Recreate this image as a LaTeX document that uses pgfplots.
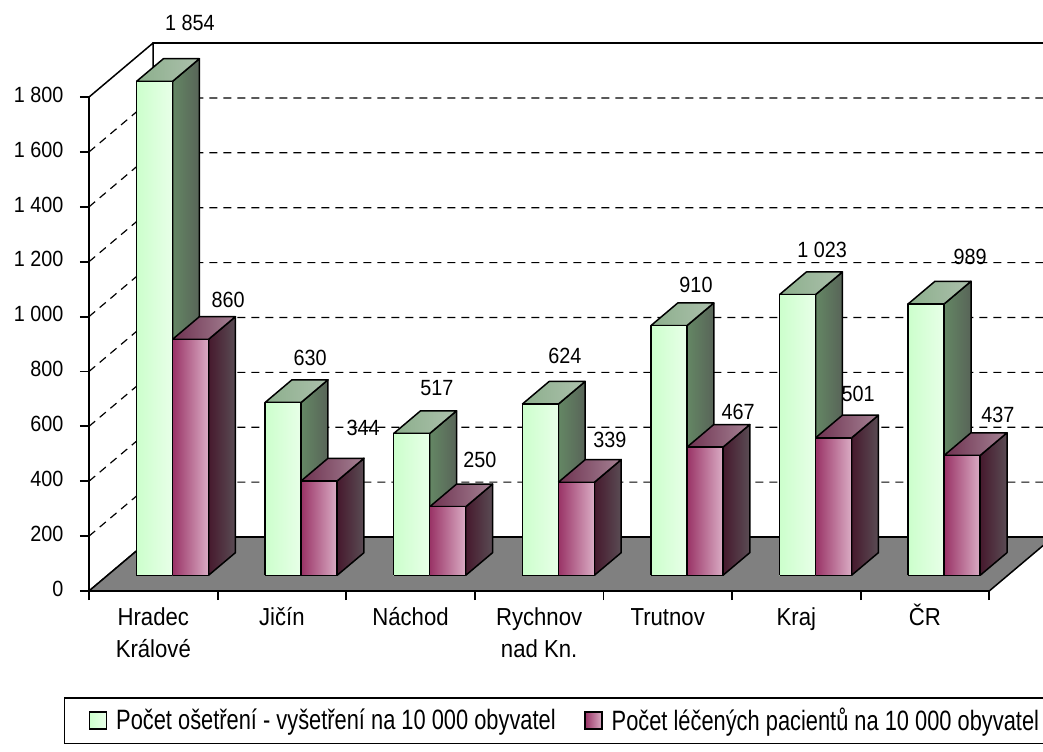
\documentclass[border=0pt]{standalone}
\usepackage{fontspec}
\setmainfont{Liberation Sans}[FakeStretch=0.9]
\newfontfamily\legfont{Liberation Sans}[FakeStretch=0.78]
\usepackage{pgfplots}
\pgfplotsset{compat=1.18}

\definecolor{gfl}{RGB}{204,255,204}
\definecolor{gfr}{RGB}{232,255,232}
\definecolor{gtl}{RGB}{140,175,140}
\definecolor{gtr}{RGB}{172,192,172}
\definecolor{gsl}{RGB}{100,135,100}
\definecolor{gsr}{RGB}{88,100,88}
\definecolor{pfl}{RGB}{153,51,102}
\definecolor{pfm}{RGB}{200,140,172}
\definecolor{pfr}{RGB}{218,172,196}
\definecolor{ptl}{RGB}{110,50,80}
\definecolor{ptr}{RGB}{165,130,148}
\definecolor{psl}{RGB}{70,25,45}
\definecolor{psr}{RGB}{90,76,84}
\definecolor{floorgray}{RGB}{128,128,128}

\pgfplotsset{
  face/.style={draw=black, line width=0.75pt, line join=round},
  gfront/.style={face, left color=gfl, right color=gfr},
  gtop/.style={face, left color=gtl, right color=gtr},
  gside/.style={face, left color=gsl, right color=gsr},
  pfront/.style={face, left color=pfl, middle color=pfm, right color=pfr},
  ptop/.style={face, left color=ptl, right color=ptr},
  pside/.style={face, left color=psl, right color=psr},
  sqlegend/.style={legend image code/.code={\draw[##1] (0pt,-4.25pt) rectangle (8.5pt,4.25pt);}},
}

% one column: x from #1 to #2, value #3 (cut at the axis top 1800), series #4 (g/p)
\newcommand{\cuboid}[4]{%
  \pgfmathsetmacro{\cz}{min(#3,1800)}%
  \addplot3[#4side] coordinates {(#2,0.29,0) (#2,0.71,0) (#2,0.71,\cz) (#2,0.29,\cz) (#2,0.29,0)};
  \addplot3[#4top] coordinates {(#1,0.29,\cz) (#2,0.29,\cz) (#2,0.71,\cz) (#1,0.71,\cz) (#1,0.29,\cz)};
  \addplot3[#4front] coordinates {(#1,0.29,0) (#2,0.29,0) (#2,0.29,\cz) (#1,0.29,\cz) (#1,0.29,0)};
}

\begin{document}
\begin{tikzpicture}
% the 3D box: walls, floor and columns
\begin{axis}[
    x={(64.3pt,0pt)}, y={(32pt,27pt)}, z={(0pt,0.1372pt)},
    xmin=0, xmax=7, ymin=0, ymax=1, zmin=0, zmax=1800,
    hide axis, clip=false,
]
\coordinate (O) at (axis cs:0,0,0);
\addplot3[face, fill=white] coordinates {(0,1,0) (7,1,0) (7,1,1800) (0,1,1800) (0,1,0)};
\addplot3[face, fill=white] coordinates {(0,0,0) (0,1,0) (0,1,1800) (0,0,1800) (0,0,0)};
\pgfplotsinvokeforeach{200,400,...,1600}{
  \addplot3[black, line width=0.6pt, dash pattern=on 4pt off 3pt] coordinates {(0,0,#1) (0,1,#1) (7,1,#1)};
}
\addplot3[face, fill=floorgray] coordinates {(0,0,0) (7,0,0) (7,1,0) (0,1,0) (0,0,0)};

\cuboid{0.225}{0.505}{1854}{g}
\cuboid{0.505}{0.785}{860}{p}
\cuboid{1.225}{1.505}{630}{g}
\cuboid{1.505}{1.785}{344}{p}
\cuboid{2.225}{2.505}{517}{g}
\cuboid{2.505}{2.785}{250}{p}
\cuboid{3.225}{3.505}{624}{g}
\cuboid{3.505}{3.785}{339}{p}
\cuboid{4.225}{4.505}{910}{g}
\cuboid{4.505}{4.785}{467}{p}
\cuboid{5.225}{5.505}{1023}{g}
\cuboid{5.505}{5.785}{501}{p}
\cuboid{6.225}{6.505}{989}{g}
\cuboid{6.505}{6.785}{437}{p}
\end{axis}

% front axes, tick labels, value labels and legend
\begin{axis}[
    anchor=origin, at={(O)},
    x={(64.3pt,0pt)}, y={(0pt,0.1372pt)},
    xmin=0, xmax=7, ymin=0, ymax=1800,
    axis lines*=left,
    axis line style={black, line width=0.9pt, -},
    tick align=outside,
    tick style={black, line width=0.9pt},
    major tick length=4.5pt, minor tick length=4.5pt,
    ytick={0,200,...,1800},
    yticklabels={0,200,400,600,800,1~000,1~200,1~400,1~600,1~800},
    yticklabel style={font=\fontsize{11}{13}\selectfont, xshift=-4.8pt},
    xtick={0.5,1.5,...,6.5},
    xticklabels={Hradec\\Králové, Jičín, Náchod, Rychnov\\nad Kn., Trutnov, Kraj, ČR},
    typeset ticklabels with strut,
    xticklabel style={font=\fontsize{12.3}{16}\selectfont, align=center, yshift=2.2pt},
    minor xtick={0,...,7},
    major x tick style={draw=none},
    clip=false,
    legend columns=2,
    legend style={at={(-0.0278,-0.2146)}, anchor=north west, draw=black, line width=0.75pt,
        inner xsep=12pt, inner ysep=5pt, font=\legfont\fontsize{14}{17}\selectfont,
        nodes={inner sep=0pt},
        /tikz/column sep=0pt,
        /tikz/every odd column/.append style={column sep=4.5pt}},
]
\addplot[forget plot, draw=none, nodes near coords, point meta=explicit symbolic,
    nodes near coords style={font=\fontsize{11}{13}\selectfont, anchor=center, inner sep=0pt}]
  coordinates {
    (0.785,2070) [1~854]
    (1.081,1060) [860]
    (1.719,849) [630]
    (2.131,594) [344]
    (2.706,740) [517]
    (3.040,477) [250]
    (3.701,856) [624]
    (4.051,550) [339]
    (4.720,1115) [910]
    (5.047,652) [467]
    (5.700,1243) [1~023]
    (5.980,718) [501]
    (6.851,1217) [989]
    (7.068,641) [437]
  };
\addlegendimage{sqlegend, draw=black, line width=0.75pt, left color=gfl, right color=gfr}
\addlegendentry{\makebox[234pt][l]{\rule[-10pt]{0pt}{0pt}Počet ošetření - vyšetření na 10 000 obyvatel}}
\addlegendimage{sqlegend, draw=black, line width=0.75pt, left color=pfl, right color=pfr}
\addlegendentry{\makebox[232pt][l]{\rule[-10pt]{0pt}{0pt}Počet léčených pacientů na 10 000 obyvatel}}
\end{axis}

\pgfresetboundingbox
\path[use as bounding box] (O) ++(-44.5pt,-80pt) rectangle ++(521.5pt,375.5pt);
\end{tikzpicture}
\end{document}
